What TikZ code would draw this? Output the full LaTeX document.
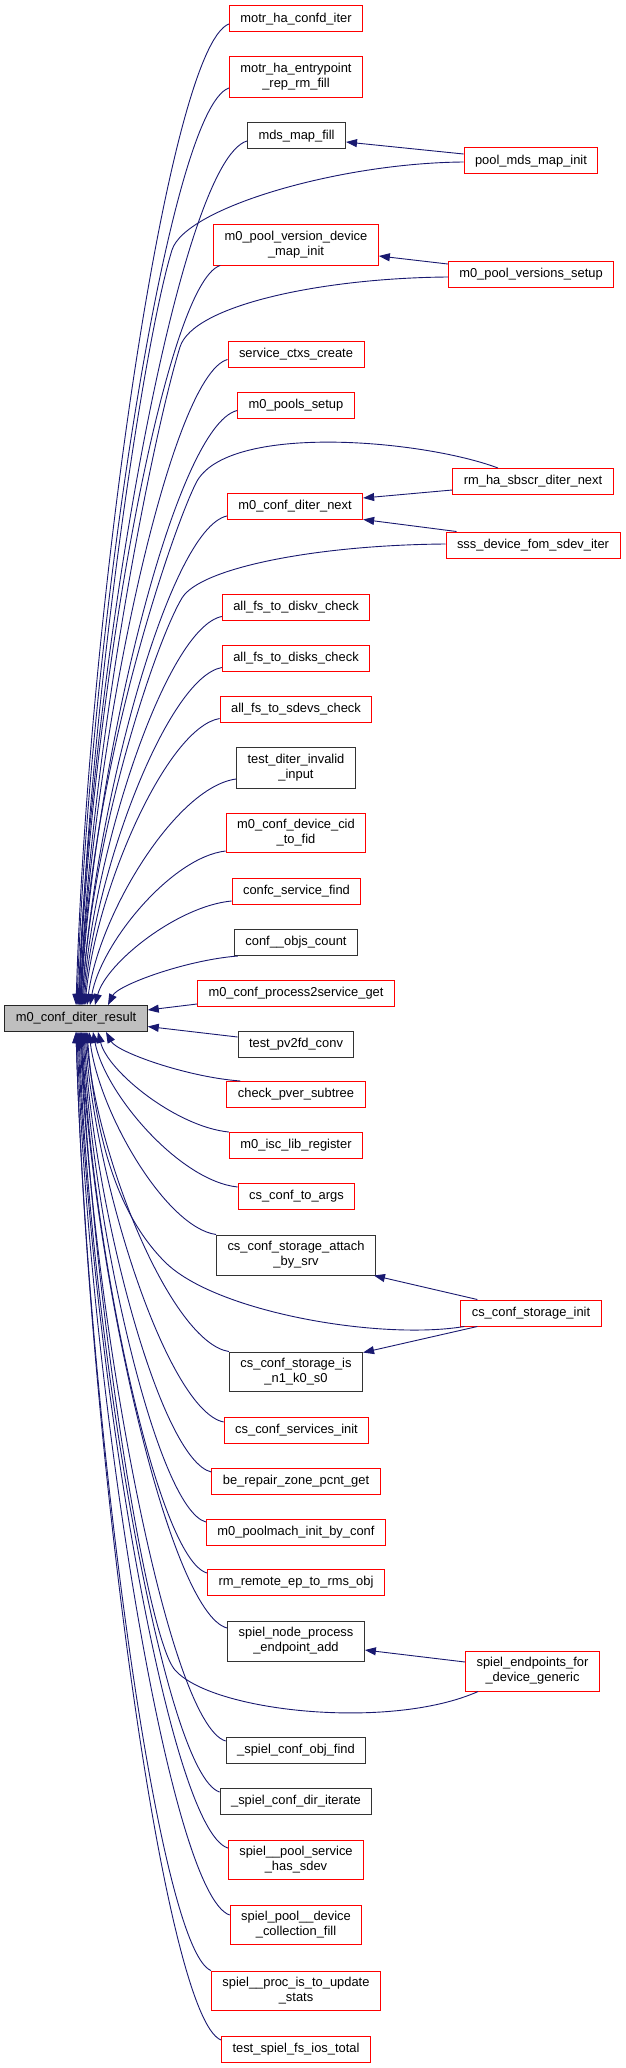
\documentclass[tikz,border=0pt]{standalone}
\usepackage{fontspec}
\setmainfont{Liberation Sans}
\usetikzlibrary{arrows.meta}
\definecolor{edgeblue}{HTML}{191970}
\definecolor{callred}{HTML}{FF0000}
\definecolor{focusgray}{HTML}{BFBFBF}

\begin{document}
\begin{tikzpicture}[x=1pt, y=1pt,
    fnbox/.style={draw, line width=1pt, fill=white, inner xsep=11pt, inner ysep=6.5pt,
        minimum height=26pt, align=center, font=\fontsize{12.9}{15}\selectfont},
    redbox/.style={fnbox, draw=callred},
    blackbox/.style={fnbox, draw=black!80},
    focusbox/.style={fnbox, draw=black!85, fill=focusgray},
    callarrow/.style={draw=edgeblue, line width=0.9pt, -{Triangle[length=11pt,width=8pt]}}]

    \fill[white] (0,0) rectangle (625,-2068);
    \useasboundingbox (0,0) rectangle (625,-2068);

    % the function itself
    \node[focusbox] (result) at (76,-1018.5) {m0\_conf\_diter\_result};

    % direct callers
    \node[redbox] (motriter) at (296,-19) {motr\_ha\_confd\_iter};
    \node[redbox] (motrentry) at (296,-77) {motr\_ha\_entrypoint\\ \_rep\_rm\_fill};
    \node[blackbox] (mdsfill) at (296.5,-136) {mds\_map\_fill};
    \node[redbox] (pverdev) at (296,-245) {m0\_pool\_version\_device\\ \_map\_init};
    \node[redbox] (svcctxs) at (296,-354.5) {service\_ctxs\_create};
    \node[redbox] (poolssetup) at (296,-405.5) {m0\_pools\_setup};
    \node[redbox] (diternext) at (295,-506) {m0\_conf\_diter\_next};
    \node[redbox] (diskv) at (296,-607.5) {all\_fs\_to\_diskv\_check};
    \node[redbox] (disks) at (296,-658.5) {all\_fs\_to\_disks\_check};
    \node[redbox] (sdevs) at (296,-709.5) {all\_fs\_to\_sdevs\_check};
    \node[blackbox] (diterinv) at (296,-768) {test\_diter\_invalid\\ \_input};
    \node[redbox] (cidfid) at (296,-833) {m0\_conf\_device\_cid\\ \_to\_fid};
    \node[redbox] (confcfind) at (296.5,-891.5) {confc\_service\_find};
    \node[blackbox] (objscount) at (296,-942.5) {conf\_\_objs\_count};
    \node[redbox] (ptosget) at (296,-993.5) {m0\_conf\_process2service\_get};
    \node[blackbox] (pvfd) at (296,-1044) {test\_pv2fd\_conv};
    \node[redbox] (pversub) at (296,-1094.5) {check\_pver\_subtree};
    \node[redbox] (iscreg) at (296,-1145.5) {m0\_isc\_lib\_register};
    \node[redbox] (csargs) at (296.5,-1196) {cs\_conf\_to\_args};
    \node[blackbox] (csattach) at (296,-1255) {cs\_conf\_storage\_attach\\ \_by\_srv};
    \node[blackbox] (csis) at (296,-1372) {cs\_conf\_storage\_is\\ \_n1\_k0\_s0};
    \node[redbox] (cssvc) at (296.5,-1430.5) {cs\_conf\_services\_init};
    \node[redbox] (berepair) at (296,-1481.5) {be\_repair\_zone\_pcnt\_get};
    \node[redbox] (pminit) at (296,-1532) {m0\_poolmach\_init\_by\_conf};
    \node[redbox] (rmremote) at (296,-1582.5) {rm\_remote\_ep\_to\_rms\_obj};
    \node[blackbox] (spielnode) at (296,-1641) {spiel\_node\_process\\ \_endpoint\_add};
    \node[blackbox] (objfind) at (296,-1750.5) {\_spiel\_conf\_obj\_find};
    \node[blackbox] (diriter) at (296,-1801) {\_spiel\_conf\_dir\_iterate};
    \node[redbox] (poolsvc) at (296,-1860) {spiel\_\_pool\_service\\ \_has\_sdev};
    \node[redbox] (devcoll) at (296,-1925) {spiel\_pool\_\_device\\ \_collection\_fill};
    \node[redbox] (procupd) at (296,-1991) {spiel\_\_proc\_is\_to\_update\\ \_stats};
    \node[redbox] (iostotal) at (296,-2049.5) {test\_spiel\_fs\_ios\_total};

    % second level callers
    \node[redbox] (poolmds) at (531,-161) {pool\_mds\_map\_init};
    \node[redbox] (pversetup) at (531,-274.5) {m0\_pool\_versions\_setup};
    \node[redbox] (rmnext) at (533,-481.5) {rm\_ha\_sbscr\_diter\_next};
    \node[redbox] (sssiter) at (533,-545) {sss\_device\_fom\_sdev\_iter};
    \node[redbox] (csinit) at (531,-1313) {cs\_conf\_storage\_init};
    \node[redbox] (spielep) at (532.5,-1671) {spiel\_endpoints\_for\\ \_device\_generic};

    % callers above
    \draw[callarrow] ([yshift=-5pt]motriter.west) .. controls +(-61,-23) and +(12,393) .. (result.north);
    \draw[callarrow] ([yshift=-11pt]motrentry.west) .. controls +(-61,-21) and +(12,367) .. ([xshift=1pt]result.north);
    \draw[callarrow] ([yshift=-5pt]mdsfill.west) .. controls +(-68,-20) and +(14,346) .. ([xshift=2pt]result.north);
    \draw[callarrow] ([yshift=-1pt]poolmds.west) .. controls +(-125,-1) and +(13,42) .. (172,-250)
        .. controls +(-28,-90) and +(10,300) .. ([xshift=3pt]result.north);
    \draw[callarrow] ([xshift=7pt]pverdev.south west) .. controls +(-56,-18) and +(11,296) .. ([xshift=3pt]result.north);
    \draw[callarrow] ([yshift=-2.5pt]pversetup.west) .. controls +(-125,-1) and +(13,42) .. (180,-347)
        .. controls +(-28,-90) and +(10,250) .. ([xshift=4pt]result.north);
    \draw[callarrow] ([yshift=-5pt]svcctxs.west) .. controls +(-58,-16) and +(12,258) .. ([xshift=4pt]result.north);
    \draw[callarrow] ([yshift=-5pt]poolssetup.west) .. controls +(-62,-15) and +(12,238) .. ([xshift=5pt]result.north);
    \draw[callarrow] ([xshift=-35pt]rmnext.north) .. controls +(-78,29) and +(30,60) .. (196,-483)
        .. controls +(-25,-50) and +(8,230) .. ([xshift=5pt]result.north);
    \draw[callarrow] ([yshift=-10pt]diternext.west) .. controls +(-58,-13) and +(12,195) .. ([xshift=6pt]result.north);
    \draw[callarrow] ([yshift=1pt]sssiter.west) .. controls +(-130,-1) and +(18,30) .. (182,-598)
        .. controls +(-27,-45) and +(10,170) .. ([xshift=6pt]result.north);
    \draw[callarrow] ([yshift=-9pt]diskv.west) .. controls +(-55,-11) and +(11,156) .. ([xshift=7pt]result.north);
    \draw[callarrow] ([yshift=-9pt]disks.west) .. controls +(-54,-10) and +(11,135) .. ([xshift=8pt]result.north);
    \draw[callarrow] ([yshift=-9pt]sdevs.west) .. controls +(-53,-9) and +(11,115) .. ([xshift=9pt]result.north);
    \draw[callarrow] ([yshift=-11pt]diterinv.west) .. controls +(-60,-8) and +(12,91) .. ([xshift=11pt]result.north);
    \draw[callarrow] ([yshift=-18pt]cidfid.west) .. controls +(-54,-6) and +(11,62) .. ([xshift=14pt]result.north);
    \draw[callarrow] ([yshift=-9.5pt]confcfind.west) .. controls +(-54,-5) and +(11,42) .. ([xshift=19pt]result.north);
    \draw[callarrow] ([xshift=4pt]objscount.south west) .. controls +(-52,-4) and +(10,20) .. ([xshift=32pt]result.north);
    \draw[callarrow] ([yshift=-10.5pt]ptosget.west) -- ([yshift=8.5pt]result.east);

    % callers below
    \draw[callarrow] ([yshift=7pt]pvfd.west) -- ([yshift=-8pt]result.east);
    \draw[callarrow] ([xshift=14pt]pversub.north west) .. controls +(-54,4) and +(11,-20) .. ([xshift=30pt]result.south);
    \draw[callarrow] (iscreg.north west) .. controls +(-52,5) and +(10,-40) .. ([xshift=22pt]result.south);
    \draw[callarrow] ([yshift=9pt]csargs.west) .. controls +(-58,6) and +(12,-62) .. ([xshift=17pt]result.south);
    \draw[callarrow] (csattach.north west) .. controls +(-50,7) and +(10,-81) .. ([xshift=13pt]result.south);
    \draw[callarrow] ([xshift=4pt]csinit.south west) .. controls +(-85,-14) and +(50,-50) .. (165,-1262)
        .. controls +(-50,50) and +(8,-100) .. ([xshift=11pt]result.south);
    \draw[callarrow] (csis.north west) .. controls +(-57,9) and +(11,-128) .. ([xshift=10pt]result.south);
    \draw[callarrow] ([yshift=8.5pt]cssvc.west) .. controls +(-55,11) and +(11,-156) .. ([xshift=9pt]result.south);
    \draw[callarrow] ([yshift=9.5pt]berepair.west) .. controls +(-51,12) and +(10,-176) .. ([xshift=8pt]result.south);
    \draw[callarrow] ([yshift=10pt]pminit.west) .. controls +(-49,13) and +(10,-196) .. ([xshift=7pt]result.south);
    \draw[callarrow] ([yshift=9.5pt]rmremote.west) .. controls +(-50,14) and +(10,-216) .. ([xshift=6pt]result.south);
    \draw[callarrow] ([yshift=13pt]spielnode.west) .. controls +(-58,15) and +(12,-238) .. ([xshift=5pt]result.south);
    \draw[callarrow] ([xshift=13pt]spielep.south west) .. controls +(-88,-39) and +(37,-42) .. (175,-1670)
        .. controls +(-30,34) and +(10,-250) .. ([xshift=5pt]result.south);
    \draw[callarrow] ([yshift=9.5pt]objfind.west) .. controls +(-58,17) and +(12,-283) .. ([xshift=4pt]result.south);
    \draw[callarrow] ([yshift=9pt]diriter.west) .. controls +(-56,18) and +(11,-304) .. ([xshift=3pt]result.south);
    \draw[callarrow] ([yshift=12pt]poolsvc.west) .. controls +(-60,19) and +(12,-326) .. ([xshift=2pt]result.south);
    \draw[callarrow] ([yshift=10pt]devcoll.west) .. controls +(-61,21) and +(12,-353) .. ([xshift=1pt]result.south);
    \draw[callarrow] (procupd.north west) .. controls +(-54,22) and +(11,-375) .. (result.south);
    \draw[callarrow] ([yshift=9.5pt]iostotal.west) .. controls +(-58,23) and +(12,-403) .. (result.south);

    % second level calls
    \draw[callarrow] ([yshift=7pt]poolmds.west) -- ([yshift=-6pt]mdsfill.east);
    \draw[callarrow] ([yshift=10.5pt]pversetup.west) -- ([yshift=-11pt]pverdev.east);
    \draw[callarrow] ([yshift=-8.5pt]rmnext.west) -- ([yshift=8pt]diternext.east);
    \draw[callarrow] ([xshift=11pt]sssiter.north west) -- (diternext.south east);
    \draw[callarrow] ([xshift=17pt]csinit.north west) -- ([xshift=-2pt]csattach.south east);
    \draw[callarrow] ([xshift=17pt]csinit.south west) -- ([yshift=-1pt]csis.north east);
    \draw[callarrow] ([yshift=9pt]spielep.west) -- ([yshift=-9pt]spielnode.east);
\end{tikzpicture}
\end{document}
